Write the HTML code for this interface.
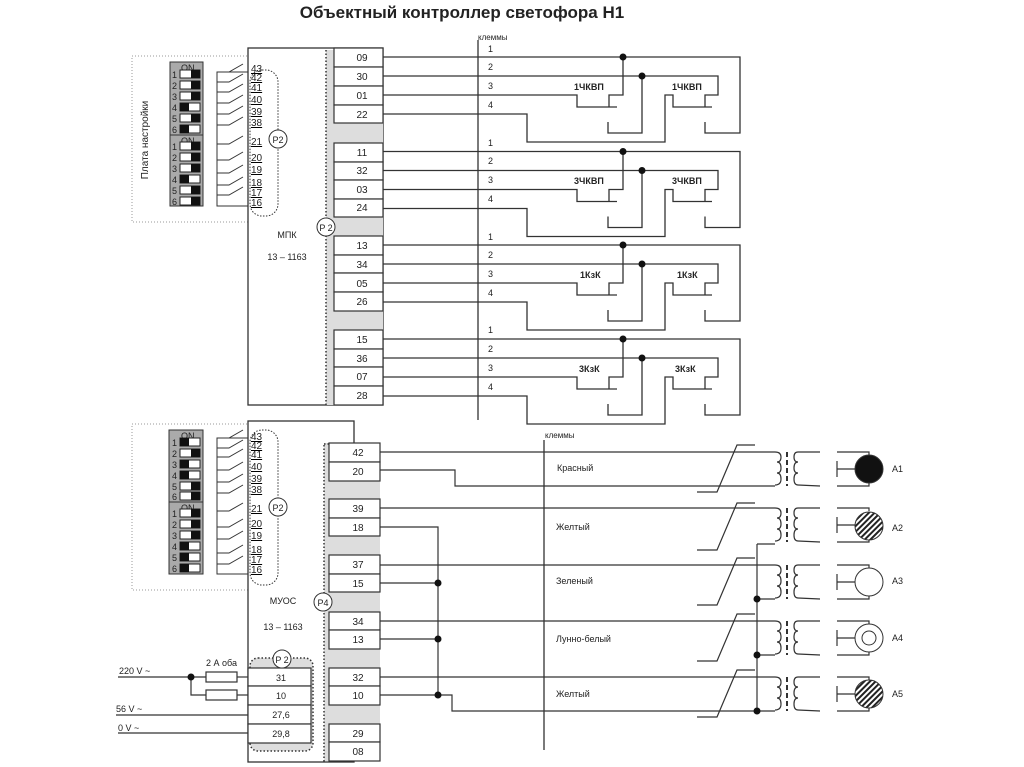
<!DOCTYPE html>
<html><head><meta charset="utf-8"><style>
html,body{margin:0;padding:0;background:#fff}
svg{display:block}
text{font-family:"Liberation Sans","DejaVu Sans",sans-serif;fill:#222}
</style></head><body>
<svg width="1024" height="767" viewBox="0 0 1024 767" xmlns="http://www.w3.org/2000/svg">
<defs>
<pattern id="h" width="4" height="4" patternUnits="userSpaceOnUse" patternTransform="rotate(45)"><rect width="4" height="4" fill="#fff"/><rect width="2" height="4" fill="#222"/></pattern>
<g id="wire" fill="none" stroke="#333" stroke-width="1.3">
<polyline points="383,57 740,57 740,133 705,133 705,122"/>
<polyline points="623,57 623,95 609,95 609,107"/>
<polyline points="383,76 718,76 718,95 705,95 705,107"/>
<polyline points="642,76 642,133 608,133 608,122"/>
<polyline points="383,95 577,95 577,107 617,107"/>
<polyline points="383,114 527,114 527,142 665,142 665,95 673,95 673,107 712,107"/>
<circle cx="623" cy="57" r="3.5" fill="#111" stroke="none"/>
<circle cx="642" cy="76" r="3.5" fill="#111" stroke="none"/>
</g>
<g id="xf" fill="none" stroke="#333" stroke-width="1.2">
<path d="M775,0 q6,0 6,5 q0,5 -4,5 q4,0 4,6 q0,5 -4,5 q4,0 4,6 q0,6 -6,6"/>
<line x1="787" y1="0" x2="787" y2="34" stroke-dasharray="5,3" stroke-width="2"/>
<path d="M820,0 L798,0 q-4,0 -4,5 q0,5 4,5 q-4,0 -4,6 q0,5 4,5 q-4,0 -4,6 q0,6 4,6 L820,34"/>
<polyline points="837,0 869,0 869,3"/><polyline points="837,34 869,34 869,31"/>
<line x1="837" y1="9" x2="837" y2="25"/><line x1="837" y1="17" x2="855" y2="17"/>
</g>
</defs>
<text x="462" y="18" font-size="17" font-weight="bold" text-anchor="middle" fill="#111">Объектный контроллер светофора Н1</text>

<!-- TOP -->
<rect x="132" y="56" width="116" height="166" fill="none" stroke="#999" stroke-dasharray="1,2"/>
<text transform="translate(148,140) rotate(-90)" font-size="10" text-anchor="middle">Плата настройки</text>
<rect x="248" y="48" width="135" height="357" fill="#fff" stroke="#333" stroke-width="1.3"/>
<rect x="326" y="50" width="8" height="355" fill="#ddd"/>
<rect x="334" y="123" width="49" height="20" fill="#ddd"/><rect x="334" y="217" width="49" height="19" fill="#ddd"/><rect x="334" y="311" width="49" height="19" fill="#ddd"/>
<line x1="326" y1="50" x2="326" y2="405" stroke="#333" stroke-dasharray="1.5,2" stroke-width="1.5"/>
<g fill="#fff" stroke="#333" stroke-width="1.2">
<rect x="334" y="48" width="49" height="19"/><rect x="334" y="67" width="49" height="19"/><rect x="334" y="86" width="49" height="19"/><rect x="334" y="105" width="49" height="18"/>
<rect x="334" y="143" width="49" height="19"/><rect x="334" y="162" width="49" height="18"/><rect x="334" y="180" width="49" height="19"/><rect x="334" y="199" width="49" height="18"/>
<rect x="334" y="236" width="49" height="19"/><rect x="334" y="255" width="49" height="18"/><rect x="334" y="273" width="49" height="19"/><rect x="334" y="292" width="49" height="19"/>
<rect x="334" y="330" width="49" height="19"/><rect x="334" y="349" width="49" height="18"/><rect x="334" y="367" width="49" height="19"/><rect x="334" y="386" width="49" height="19"/>
</g>
<g font-size="10" text-anchor="middle">
<text x="362" y="61">09</text><text x="362" y="80">30</text><text x="362" y="99">01</text><text x="362" y="118">22</text>
<text x="362" y="156">11</text><text x="362" y="174">32</text><text x="362" y="193">03</text><text x="362" y="211">24</text>
<text x="362" y="249">13</text><text x="362" y="268">34</text><text x="362" y="287">05</text><text x="362" y="305">26</text>
<text x="362" y="343">15</text><text x="362" y="362">36</text><text x="362" y="380">07</text><text x="362" y="399">28</text>
</g>
<line x1="478" y1="40" x2="478" y2="420" stroke="#333" stroke-width="1.3"/>
<text x="478" y="40" font-size="8">клеммы</text>
<g font-size="9">
<text x="488" y="52">1</text><text x="488" y="70">2</text><text x="488" y="89">3</text><text x="488" y="108">4</text>
<text x="488" y="146">1</text><text x="488" y="164">2</text><text x="488" y="183">3</text><text x="488" y="202">4</text>
<text x="488" y="240">1</text><text x="488" y="258">2</text><text x="488" y="277">3</text><text x="488" y="296">4</text>
<text x="488" y="333">1</text><text x="488" y="352">2</text><text x="488" y="371">3</text><text x="488" y="390">4</text>
</g>
<use href="#wire"/><use href="#wire" transform="translate(0,94.5)"/><use href="#wire" transform="translate(0,188)"/><use href="#wire" transform="translate(0,282)"/>
<g font-size="9" font-weight="bold" fill="#111">
<text x="574" y="90">1ЧКВП</text><text x="672" y="90">1ЧКВП</text>
<text x="574" y="184">3ЧКВП</text><text x="672" y="184">3ЧКВП</text>
<text x="580" y="278">1КзК</text><text x="677" y="278">1КзК</text>
<text x="579" y="372">3КзК</text><text x="675" y="372">3КзК</text>
</g>
<!-- top dip -->
<g id="dipA">
<rect x="170" y="62" width="33" height="73" fill="#aaa" stroke="#333"/>
<rect x="170" y="135" width="33" height="71" fill="#aaa" stroke="#333"/>
</g>
<g font-size="9"><text x="181" y="71">ON</text><text x="181" y="144">ON</text></g>
<g font-size="9" id="nums1">
<text x="172" y="78">1</text><text x="172" y="89">2</text><text x="172" y="100">3</text><text x="172" y="111">4</text><text x="172" y="122">5</text><text x="172" y="133">6</text>
<text x="172" y="150">1</text><text x="172" y="161">2</text><text x="172" y="172">3</text><text x="172" y="183">4</text><text x="172" y="194">5</text><text x="172" y="205">6</text>
</g>
<g stroke="#222" fill="#fff">
<rect x="180" y="70" width="20" height="8"/><rect x="180" y="81" width="20" height="8"/><rect x="180" y="92" width="20" height="8"/><rect x="180" y="103" width="20" height="8"/><rect x="180" y="114" width="20" height="8"/><rect x="180" y="125" width="20" height="8"/>
<rect x="180" y="142" width="20" height="8"/><rect x="180" y="153" width="20" height="8"/><rect x="180" y="164" width="20" height="8"/><rect x="180" y="175" width="20" height="8"/><rect x="180" y="186" width="20" height="8"/><rect x="180" y="197" width="20" height="8"/>
</g>
<g fill="#111">
<rect x="191" y="70" width="9" height="8"/><rect x="191" y="81" width="9" height="8"/><rect x="191" y="92" width="9" height="8"/><rect x="180" y="103" width="9" height="8"/><rect x="191" y="114" width="9" height="8"/><rect x="180" y="125" width="9" height="8"/>
<rect x="191" y="142" width="9" height="8"/><rect x="191" y="153" width="9" height="8"/><rect x="191" y="164" width="9" height="8"/><rect x="180" y="175" width="9" height="8"/><rect x="191" y="186" width="9" height="8"/><rect x="191" y="197" width="9" height="8"/>
</g>
<g stroke="#333" fill="none" stroke-width="1">
<polyline points="248,72 217,72 217,206 248,206"/>
<path d="M217,72h12l14,-8 M217,82h12l14,-8 M217,92h12l14,-8 M217,103h12l14,-8 M217,114h12l14,-8 M217,125h12l14,-8 M217,144h12l14,-8 M217,160h12l14,-8 M217,173h12l14,-8 M217,185h12l14,-8 M217,195h12l14,-8"/>
<rect x="250" y="70" width="28" height="146" rx="12" stroke-dasharray="1.5,1.5"/>
</g>
<g font-size="10" text-decoration="underline">
<text x="251" y="72">43</text><text x="251" y="81">42</text><text x="251" y="91">41</text><text x="251" y="103">40</text><text x="251" y="115">39</text><text x="251" y="126">38</text>
<text x="251" y="145">21</text><text x="251" y="161">20</text><text x="251" y="173">19</text><text x="251" y="186">18</text><text x="251" y="196">17</text><text x="251" y="206">16</text>
</g>
<circle cx="278" cy="139" r="9" fill="#fff" stroke="#333"/><text x="278" y="143" font-size="9" text-anchor="middle">P2</text>
<circle cx="326" cy="227" r="9" fill="#fff" stroke="#333"/><text x="326" y="231" font-size="9" text-anchor="middle">P 2</text>
<text x="287" y="238" font-size="9" text-anchor="middle">МПК</text>
<text x="287" y="260" font-size="9" text-anchor="middle">13 – 1163</text>

<!-- BOTTOM -->
<rect x="132" y="424" width="116" height="166" fill="none" stroke="#999" stroke-dasharray="1,2"/>
<rect x="248" y="421" width="106" height="341" fill="#fff" stroke="#333" stroke-width="1.3"/>
<rect x="324" y="443" width="56" height="318" fill="#ddd"/>
<line x1="324" y1="445" x2="324" y2="762" stroke="#333" stroke-dasharray="1.5,2" stroke-width="1.5"/>
<line x1="324" y1="444" x2="380" y2="444" stroke="#333" stroke-dasharray="1.5,2" stroke-width="1.5"/>
<g fill="#fff" stroke="#333" stroke-width="1.2">
<rect x="329" y="443" width="51" height="19"/><rect x="329" y="462" width="51" height="19"/>
<rect x="329" y="499" width="51" height="19"/><rect x="329" y="518" width="51" height="18"/>
<rect x="329" y="555" width="51" height="19"/><rect x="329" y="574" width="51" height="18"/>
<rect x="329" y="612" width="51" height="18"/><rect x="329" y="630" width="51" height="19"/>
<rect x="329" y="668" width="51" height="18"/><rect x="329" y="686" width="51" height="19"/>
<rect x="329" y="724" width="51" height="18"/><rect x="329" y="742" width="51" height="19"/>
</g>
<g font-size="10" text-anchor="middle">
<text x="358" y="456">42</text><text x="358" y="475">20</text><text x="358" y="512">39</text><text x="358" y="531">18</text>
<text x="358" y="568">37</text><text x="358" y="587">15</text><text x="358" y="625">34</text><text x="358" y="643">13</text>
<text x="358" y="681">32</text><text x="358" y="699">10</text><text x="358" y="737">29</text><text x="358" y="755">08</text>
</g>
<circle cx="323" cy="602" r="9" fill="#fff" stroke="#333"/><text x="323" y="606" font-size="9" text-anchor="middle">P4</text>
<text x="283" y="604" font-size="9" text-anchor="middle">МУОС</text>
<text x="283" y="630" font-size="9" text-anchor="middle">13 – 1163</text>
<!-- power block -->
<rect x="250" y="658" width="63" height="93" rx="8" fill="#ddd" stroke="#333" stroke-dasharray="1.5,2" stroke-width="1.5"/>
<g fill="#fff" stroke="#333" stroke-width="1.2">
<rect x="248" y="668" width="63" height="18"/><rect x="248" y="686" width="63" height="19"/><rect x="248" y="705" width="63" height="19"/><rect x="248" y="724" width="63" height="19"/>
</g>
<g font-size="9" text-anchor="middle"><text x="281" y="681">31</text><text x="281" y="699">10</text><text x="281" y="718">27,6</text><text x="281" y="737">29,8</text></g>
<circle cx="282" cy="659" r="9" fill="#fff" stroke="#333"/><text x="282" y="663" font-size="9" text-anchor="middle">P 2</text>
<text x="206" y="666" font-size="9">2 А оба</text>
<text x="119" y="674" font-size="9">220  V ~</text><text x="116" y="712" font-size="9">56  V ~</text><text x="118" y="731" font-size="9">0  V ~</text>
<g stroke="#333" fill="none" stroke-width="1.2">
<line x1="118" y1="677" x2="206" y2="677"/><polyline points="191,677 191,695 206,695"/>
<rect x="206" y="672" width="31" height="10" fill="#fff"/><rect x="206" y="690" width="31" height="10" fill="#fff"/>
<line x1="237" y1="677" x2="248" y2="677"/><line x1="237" y1="695" x2="248" y2="695"/>
<line x1="116" y1="715" x2="248" y2="715"/><line x1="118" y1="733" x2="248" y2="733"/>
</g>
<circle cx="191" cy="677" r="3.5" fill="#111"/>
<!-- bottom dip -->
<rect x="169" y="430" width="34" height="72" fill="#aaa" stroke="#333"/>
<rect x="169" y="502" width="34" height="72" fill="#aaa" stroke="#333"/>
<g font-size="9"><text x="181" y="439">ON</text><text x="181" y="511">ON</text>
<text x="172" y="446">1</text><text x="172" y="457">2</text><text x="172" y="468">3</text><text x="172" y="479">4</text><text x="172" y="490">5</text><text x="172" y="500">6</text>
<text x="172" y="517">1</text><text x="172" y="528">2</text><text x="172" y="539">3</text><text x="172" y="550">4</text><text x="172" y="561">5</text><text x="172" y="572">6</text></g>
<g stroke="#222" fill="#fff">
<rect x="180" y="438" width="20" height="8"/><rect x="180" y="449" width="20" height="8"/><rect x="180" y="460" width="20" height="8"/><rect x="180" y="471" width="20" height="8"/><rect x="180" y="482" width="20" height="8"/><rect x="180" y="492" width="20" height="8"/>
<rect x="180" y="509" width="20" height="8"/><rect x="180" y="520" width="20" height="8"/><rect x="180" y="531" width="20" height="8"/><rect x="180" y="542" width="20" height="8"/><rect x="180" y="553" width="20" height="8"/><rect x="180" y="564" width="20" height="8"/>
</g>
<g fill="#111">
<rect x="180" y="438" width="9" height="8"/><rect x="191" y="449" width="9" height="8"/><rect x="180" y="460" width="9" height="8"/><rect x="180" y="471" width="9" height="8"/><rect x="191" y="482" width="9" height="8"/><rect x="191" y="492" width="9" height="8"/>
<rect x="191" y="509" width="9" height="8"/><rect x="191" y="520" width="9" height="8"/><rect x="191" y="531" width="9" height="8"/><rect x="180" y="542" width="9" height="8"/><rect x="180" y="553" width="9" height="8"/><rect x="180" y="564" width="9" height="8"/>
</g>
<g stroke="#333" fill="none" stroke-width="1">
<polyline points="248,438 217,438 217,574 248,574"/>
<path d="M217,438h12l14,-8 M217,448h12l14,-8 M217,457h12l14,-8 M217,470h12l14,-8 M217,482h12l14,-8 M217,493h12l14,-8 M217,511h12l14,-8 M217,527h12l14,-8 M217,539h12l14,-8 M217,553h12l14,-8 M217,564h12l14,-8"/>
<rect x="250" y="430" width="28" height="155" rx="12" stroke-dasharray="1.5,1.5"/>
</g>
<g font-size="10" text-decoration="underline">
<text x="251" y="440">43</text><text x="251" y="449">42</text><text x="251" y="458">41</text><text x="251" y="470">40</text><text x="251" y="482">39</text><text x="251" y="493">38</text>
<text x="251" y="512">21</text><text x="251" y="527">20</text><text x="251" y="539">19</text><text x="251" y="553">18</text><text x="251" y="563">17</text><text x="251" y="573">16</text>
</g>
<circle cx="278" cy="507" r="9" fill="#fff" stroke="#333"/><text x="278" y="511" font-size="9" text-anchor="middle">P2</text>
<!-- right wiring bottom -->
<line x1="544" y1="440" x2="544" y2="750" stroke="#333" stroke-width="1.3"/>
<text x="545" y="438" font-size="8">клеммы</text>
<g stroke="#333" fill="none" stroke-width="1.2">
<line x1="380" y1="452" x2="775" y2="452"/><polyline points="380,470 455,470 455,486 775,486"/>
<line x1="380" y1="508" x2="775" y2="508"/><polyline points="380,527 438,527 438,695"/>
<line x1="380" y1="565" x2="775" y2="565"/><line x1="380" y1="583" x2="438" y2="583"/>
<line x1="380" y1="621" x2="775" y2="621"/><line x1="380" y1="639" x2="438" y2="639"/>
<line x1="380" y1="677" x2="775" y2="677"/><polyline points="380,695 452,695 452,711 775,711"/>
<polyline points="757,544 757,711"/>
<line x1="757" y1="544" x2="775" y2="544"/><line x1="757" y1="599" x2="775" y2="599"/><line x1="757" y1="655" x2="775" y2="655"/>
<path d="M697,492h20l20,-47h18 M697,550h20l20,-47h18 M697,605h20l20,-47h18 M697,661h20l20,-47h18 M697,717h20l20,-47h18"/>
</g>
<g fill="#111"><circle cx="438" cy="583" r="3.5"/><circle cx="438" cy="639" r="3.5"/><circle cx="438" cy="695" r="3.5"/>
<circle cx="757" cy="599" r="3.5"/><circle cx="757" cy="655" r="3.5"/><circle cx="757" cy="711" r="3.5"/></g>
<use href="#xf" transform="translate(0,452)"/><use href="#xf" transform="translate(0,508)"/><use href="#xf" transform="translate(0,565)"/><use href="#xf" transform="translate(0,621)"/><use href="#xf" transform="translate(0,677)"/>
<circle cx="869" cy="469" r="14" fill="#111" stroke="#333"/>
<circle cx="869" cy="526" r="14" fill="url(#h)" stroke="#333"/>
<circle cx="869" cy="582" r="14" fill="#fff" stroke="#333"/>
<circle cx="869" cy="638" r="14" fill="#fff" stroke="#333"/><circle cx="869" cy="638" r="7" fill="#fff" stroke="#333"/>
<circle cx="869" cy="694" r="14" fill="url(#h)" stroke="#333"/>
<g font-size="9"><text x="892" y="472">А1</text><text x="892" y="531">А2</text><text x="892" y="584">А3</text><text x="892" y="641">А4</text><text x="892" y="697">А5</text></g>
<g font-size="9"><text x="557" y="471">Красный</text><text x="556" y="530">Желтый</text><text x="556" y="584">Зеленый</text><text x="556" y="642">Лунно-белый</text><text x="556" y="697">Желтый</text></g>
</svg>
</body></html>
